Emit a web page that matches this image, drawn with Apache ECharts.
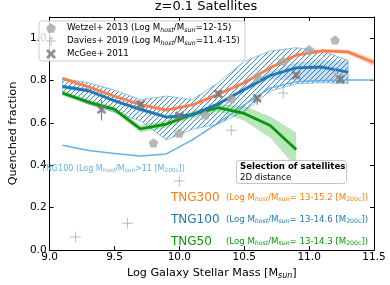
<!DOCTYPE html>
<html><head><meta charset="utf-8">
<script src="https://cdn.jsdelivr.net/npm/echarts/dist/echarts.min.js"></script>
<style>html,body{margin:0;padding:0;background:#fff}#c{width:390px;height:285px}</style>
</head><body><div id="c"></div>
<script>
// ---------- data ----------
const massTNG300 = [9.1,9.3,9.5,9.7,9.9,10.1,10.3,10.5,10.7,10.9,11.1,11.3,11.5];
const fracTNG300 = [0.81,0.77,0.726,0.687,0.66,0.685,0.735,0.79,0.86,0.92,0.94,0.935,0.885];
const lowTNG300  = [0.803,0.763,0.719,0.68,0.653,0.678,0.728,0.783,0.852,0.912,0.931,0.924,0.868];
const highTNG300 = [0.817,0.777,0.733,0.694,0.667,0.692,0.742,0.797,0.868,0.928,0.949,0.946,0.902];

const massTNG100 = [9.1,9.3,9.5,9.7,9.9,10.1,10.3,10.5,10.7,10.9,11.1,11.3];
const fracTNG100 = [0.772,0.752,0.705,0.664,0.628,0.638,0.69,0.758,0.824,0.86,0.864,0.84];
const lowTNG100  = [0.762,0.742,0.695,0.654,0.618,0.628,0.68,0.746,0.805,0.80,0.795,0.79];
const highTNG100 = [0.782,0.762,0.715,0.674,0.638,0.648,0.70,0.77,0.845,0.885,0.895,0.895];
const hatchLowTNG100  = [0.742,0.69,0.65,0.61,0.52,0.57,0.595,0.655,0.75,0.785,0.79,0.787];
const hatchHighTNG100 = [0.81,0.79,0.755,0.71,0.727,0.71,0.79,0.89,0.94,0.955,0.94,0.895];

const massTNG50 = [9.1,9.3,9.5,9.7,9.9,10.1,10.3,10.5,10.7,10.9];
const fracTNG50 = [0.741,0.698,0.664,0.572,0.595,0.64,0.672,0.645,0.588,0.475];
const lowTNG50  = [0.73,0.686,0.652,0.555,0.578,0.625,0.655,0.61,0.53,0.39];
const highTNG50 = [0.752,0.71,0.676,0.59,0.612,0.657,0.69,0.68,0.63,0.555];

const massTNG100all = [9.1,9.3,9.5,9.7,9.9,10.1,10.3,10.5,10.7,10.9,11.1,11.3,11.5];
const fracTNG100all = [0.495,0.47,0.456,0.444,0.454,0.52,0.60,0.685,0.765,0.795,0.80,0.803,0.803];

const wetzelMass = [9.8,10.0,10.2,10.4,10.6,10.8,11.0,11.2];
const wetzelFrac = [0.506,0.552,0.638,0.714,0.818,0.891,0.946,0.991];
const daviesMass = [9.2,9.6,10.0,10.4,10.8,11.2];
const daviesFrac = [0.062,0.127,0.326,0.566,0.741,0.834];
const mcgeeMass = [9.4,9.7,10.0,10.3,10.6,10.9,11.24];
const mcgeeFrac = [0.664,0.687,0.634,0.737,0.716,0.826,0.806];
const mcgeeErrLow  = [0.052,0.015,0.012,0.015,0.03,0.015,0.02];
const mcgeeErrHigh = [0.046,0.015,0.012,0.015,0.015,0.015,0.02];

const xTicks = [9.0,9.5,10.0,10.5,11.0,11.5];
const yTicks = [0.0,0.2,0.4,0.6,0.8,1.0];

// ---------- styling ----------
const FONT = 'DejaVu Sans';
const cOrange = '#fd7d4f', cOrangeTxt = '#ff7f0e';
const cBlue = '#1f77b4', cLight = '#66b0e6', cGreen = '#0a960a';
const pentPath = 'path://M0,-10L9.51,-3.09L5.88,8.09L-5.88,8.09L-9.51,-3.09Z';
const plusPath = 'path://M-0.9,-10L0.9,-10L0.9,-0.9L10,-0.9L10,0.9L0.9,0.9L0.9,10L-0.9,10L-0.9,0.9L-10,0.9L-10,-0.9L-0.9,-0.9Z';
const xPath = 'path://M-10,-6L-6,-10L0,-4L6,-10L10,-6L4,0L10,6L6,10L0,4L-6,10L-10,6L-4,0Z';

// hatch tile: pixel-drawn "/" diagonals
const hatch = document.createElement('canvas');
hatch.width = 5; hatch.height = 5;
(function(){
  const g = hatch.getContext('2d');
  const img = g.createImageData(5, 5);
  for (let y=0;y<5;y++) for (let x=0;x<5;x++){
    const k = (y*5+x)*4;
    const d = (x + y) % 5;
    let a = 0;
    if (d === 4) a = 230; else if (d === 0) a = 40;
    img.data[k]=44; img.data[k+1]=126; img.data[k+2]=192; img.data[k+3]=a;
  }
  g.putImageData(img, 0, 0);
})();

function pairs(xs, ys){ return xs.map((x,i)=>[x, ys[i]]); }

function band(name, xs, lo, hi, fill, stroke, lw, z){
  return {
    type:'custom', name, z, silent:true, coordinateSystem:'cartesian2d',
    data:[[xs[0], lo[0]]],
    renderItem:(params, api)=>{
      const pts = [];
      for (let i=0;i<xs.length;i++) pts.push(api.coord([xs[i], hi[i]]));
      for (let i=xs.length-1;i>=0;i--) pts.push(api.coord([xs[i], lo[i]]));
      return {type:'polygon', shape:{points:pts}, style:{fill, stroke: stroke || null, lineWidth: lw || 0}};
    }
  };
}

function line(name, xs, ys, color, width, z){
  return {type:'line', name, z, data:pairs(xs, ys), showSymbol:false, silent:true,
    lineStyle:{color, width, cap:'butt', join:'round'}, itemStyle:{color}, animation:false};
}

const subRich = {
  i:{fontSize:6.3, fontStyle:'italic', fontFamily:FONT, verticalAlign:'bottom', lineHeight:10},
  s:{fontSize:6.3, fontFamily:FONT, verticalAlign:'bottom', lineHeight:10}
};
function richColored(color, size){
  return {
    i:{fontSize:size*0.72, fontStyle:'italic', fontFamily:FONT, fill:color, color, verticalAlign:'bottom', lineHeight:size*1.15},
    s:{fontSize:size*0.72, fontFamily:FONT, fill:color, color, verticalAlign:'bottom', lineHeight:size*1.15},
    b:{fontSize:size, fontWeight:'bold', fontFamily:FONT, fill:color, color, lineHeight:size*1.25},
    n:{fontSize:size, fontFamily:FONT, fill:color, color, lineHeight:size*1.25}
  };
}

const legendText = {
  'Wetzel':'{sp|}Wetzel+ 2013 (Log M{i|host}/M{i|sun}=12-15)',
  'Davies':'{sp|}Davies+ 2019 (Log M{i|host}/M{i|sun}=11.4-15)',
  'McGee':'{sp|}McGee+ 2011'
};

const chart = echarts.init(document.getElementById('c'), null, {renderer:'canvas'});
chart.setOption({
  animation:false,
  backgroundColor:'#fff',
  textStyle:{fontFamily:FONT},
  title:{text:'z=0.1 Satellites', left:206, top:0, padding:0, textAlign:'center',
    textStyle:{fontSize:13, fontWeight:'normal', color:'#000', fontFamily:FONT}},
  grid:{left:36, right:16, top:17, bottom:30, containLabel:false},
  xAxis:[{
    type:'value', position:'bottom', min:xTicks[0], max:xTicks[xTicks.length-1], interval:0.5,
    axisLine:{show:true, onZero:false, lineStyle:{color:'#000', width:1}},
    axisTick:{show:true, inside:true, length:4, lineStyle:{color:'#000'}},
    axisLabel:{fontSize:10.5, color:'#000', margin:2, fontFamily:FONT, formatter:v=>v.toFixed(1)},
    splitLine:{show:false},
    name:'Log Galaxy Stellar Mass [M{i|sun}]', nameLocation:'middle', nameGap:13,
    nameTextStyle:{fontSize:11.2, color:'#000', fontFamily:FONT,
      rich:{i:{fontSize:8, fontStyle:'italic', fontFamily:FONT, color:'#000', verticalAlign:'bottom', lineHeight:13}}}
  },{
    type:'value', position:'top', min:xTicks[0], max:xTicks[xTicks.length-1], interval:0.5,
    axisLine:{show:true, onZero:false, lineStyle:{color:'#000', width:1}},
    axisTick:{show:true, inside:true, length:4, lineStyle:{color:'#000'}},
    axisLabel:{show:false}, splitLine:{show:false}
  }],
  yAxis:[{
    type:'value', position:'left', min:0, max:1.1, interval:0.2,
    axisLine:{show:true, onZero:false, lineStyle:{color:'#000', width:1}},
    axisTick:{show:true, inside:true, length:4, lineStyle:{color:'#000'}},
    axisLabel:{fontSize:10.5, color:'#000', margin:3, fontFamily:FONT, showMaxLabel:false,
      formatter:v=> yTicks.some(t=>Math.abs(t-v)<1e-6) ? v.toFixed(1) : ''},
    splitLine:{show:false},
    name:'Quenched fraction', nameLocation:'middle', nameGap:22, nameRotate:90,
    nameTextStyle:{fontSize:11.2, color:'#000', fontFamily:FONT}
  },{
    type:'value', position:'right', min:0, max:1.1, interval:0.2,
    axisLine:{show:true, onZero:false, lineStyle:{color:'#000', width:1}},
    axisTick:{show:true, inside:true, length:4, lineStyle:{color:'#000'}},
    axisLabel:{show:false}, splitLine:{show:false}
  }],
  legend:{
    data:[{name:'Wetzel', icon:pentPath},{name:'Davies', icon:plusPath},{name:'McGee', icon:xPath}],
    orient:'vertical', left:39, top:21, padding:[2,5,2,7], itemGap:3,
    itemWidth:10, itemHeight:10, borderColor:'#cccccc', borderWidth:1, borderRadius:3,
    backgroundColor:'rgba(255,255,255,0.8)', selectedMode:false,
    formatter:name=>legendText[name],
    textStyle:{fontSize:8.7, color:'#000', fontFamily:FONT, lineHeight:10,
      rich:Object.assign({sp:{width:6}}, subRich)}
  },
  graphic:[
    {type:'text', x:41, y:169, z:50, style:{
      text:'TNG100 (Log M{i|host}/M{i|sun}>11 [M{s|200c}])', fill:cLight,
      fontSize:8, fontFamily:FONT, align:'left', verticalAlign:'middle', rich:richColored(cLight, 8)}},
    {type:'rect', z:60, shape:{x:236.5, y:160.5, width:110, height:23, r:3},
      style:{fill:'#fff', stroke:'#c4c4c4', lineWidth:1}},
    {type:'text', x:240, y:172, z:61, style:{
      text:'{b|Selection of satellites}\n{n|2D distance}', fill:'#000',
      fontSize:8.6, fontFamily:FONT, align:'left', verticalAlign:'middle', rich:richColored('#000', 8.6)}},
    {type:'text', x:171, y:197.5, z:50, style:{text:'TNG300', fill:cOrangeTxt, fontSize:12, fontFamily:FONT, align:'left', verticalAlign:'middle'}},
    {type:'text', x:226, y:197.5, z:50, style:{
      text:'(Log M{i|host}/M{i|sun}= 13-15.2 [M{s|200c}])', fill:cOrangeTxt,
      fontSize:8.6, fontFamily:FONT, align:'left', verticalAlign:'middle', rich:richColored(cOrangeTxt, 8.6)}},
    {type:'text', x:171, y:219.5, z:50, style:{text:'TNG100', fill:cBlue, fontSize:12, fontFamily:FONT, align:'left', verticalAlign:'middle'}},
    {type:'text', x:226, y:219.5, z:50, style:{
      text:'(Log M{i|host}/M{i|sun}= 13-14.6 [M{s|200c}])', fill:cBlue,
      fontSize:8.6, fontFamily:FONT, align:'left', verticalAlign:'middle', rich:richColored(cBlue, 8.6)}},
    {type:'text', x:171, y:241.5, z:50, style:{text:'TNG50', fill:cGreen, fontSize:12, fontFamily:FONT, align:'left', verticalAlign:'middle'}},
    {type:'text', x:226, y:241.5, z:50, style:{
      text:'(Log M{i|host}/M{i|sun}= 13-14.3 [M{s|200c}])', fill:cGreen,
      fontSize:8.6, fontFamily:FONT, align:'left', verticalAlign:'middle', rich:richColored(cGreen, 8.6)}}
  ],
  series:[
    band('hatch100', massTNG100, hatchLowTNG100, hatchHighTNG100, {image:hatch, repeat:'repeat'}, '#78b4e2', 0.8, 1),
    band('band100', massTNG100, lowTNG100, highTNG100, 'rgba(31,119,180,0.22)', null, 0, 2),
    band('band50', massTNG50, lowTNG50, highTNG50, 'rgba(60,180,60,0.35)', null, 0, 2),
    band('band300', massTNG300, lowTNG300, highTNG300, 'rgba(253,125,79,0.35)', null, 0, 2),
    line('TNG100all', massTNG100all, fracTNG100all, cLight, 1.5, 3),
    line('TNG50', massTNG50, fracTNG50, cGreen, 2.8, 4),
    line('TNG100', massTNG100, fracTNG100, cBlue, 2.8, 5),
    line('TNG300', massTNG300, fracTNG300, cOrange, 2.8, 6),
    {type:'custom', name:'McGeeErr', z:7, silent:true, coordinateSystem:'cartesian2d',
      data: mcgeeMass.map((m,i)=>[m, mcgeeFrac[i]-mcgeeErrLow[i], mcgeeFrac[i]+mcgeeErrHigh[i]]),
      renderItem:(params, api)=>{
        const a = api.coord([api.value(0), api.value(1)]);
        const b = api.coord([api.value(0), api.value(2)]);
        return {type:'line', shape:{x1:a[0], y1:a[1], x2:b[0], y2:b[1]}, style:{stroke:'#808080', lineWidth:1.2}};
      }},
    {type:'scatter', name:'Wetzel', z:8, data:pairs(wetzelMass, wetzelFrac), symbol:pentPath, symbolSize:9.5,
      symbolKeepAspect:true, itemStyle:{color:'#a6a6a6'}, silent:true},
    {type:'scatter', name:'Davies', z:8, data:pairs(daviesMass, daviesFrac), symbol:plusPath, symbolSize:10.5,
      symbolKeepAspect:true, itemStyle:{color:'#a6a6a6'}, silent:true},
    {type:'scatter', name:'McGee', z:9, data:pairs(mcgeeMass, mcgeeFrac), symbol:xPath, symbolSize:9.5,
      symbolKeepAspect:true, itemStyle:{color:'#747474'}, silent:true}
  ]
});
</script>
</body></html>
